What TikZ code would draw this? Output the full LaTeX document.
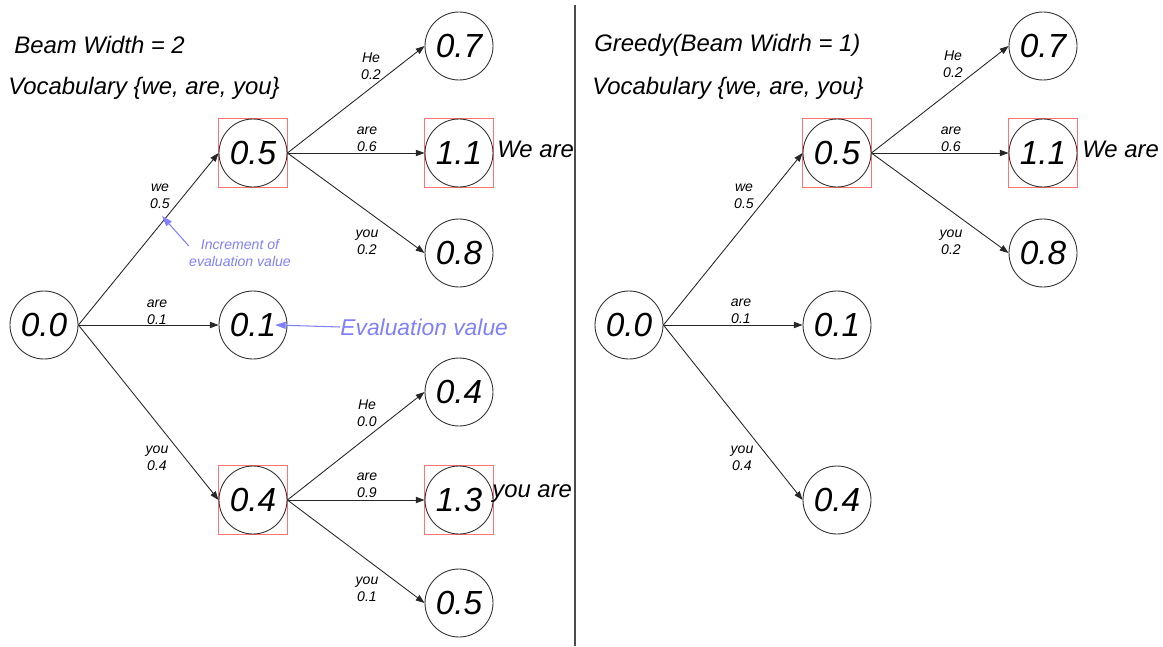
\documentclass[tikz,border=0pt]{standalone}
\usepackage{fontspec}
\setmainfont{Liberation Sans}
\usetikzlibrary{arrows.meta,positioning}

\tikzset{
  val/.style={circle, draw=black!80, line width=0.5pt, minimum size=1.36cm, inner sep=0pt,
    font=\fontsize{19}{22}\selectfont\itshape},
  best/.style={rectangle, draw=red!55, line width=0.5pt, minimum size=1.38cm, inner sep=0pt},
  edge/.style={-{Triangle[length=5pt,width=3.6pt]}, black!85, line width=0.5pt},
  elabel/.style={align=center, inner sep=0pt, font=\fontsize{8}{9.6}\selectfont\itshape},
  title/.style={anchor=west, inner sep=0pt, font=\fontsize{13.6}{16}\selectfont\itshape},
  result/.style={anchor=west, inner sep=0pt, font=\fontsize{13.6}{16}\selectfont\itshape},
  note/.style={text=blue!50, align=center, inner sep=0pt},
  notearrow/.style={-{Triangle[length=6pt,width=4pt]}, blue!50, line width=0.6pt}
}

\begin{document}
\begin{tikzpicture}[x=0.02cm, y=-0.02cm]
  \useasboundingbox (0,0) rectangle (1163,646);

  % Divider
  \draw[black!70, line width=0.6pt] (575,5) -- (575,646);

  % ---------------- Beam search (width 2) ----------------
  \node[title] (lt1) at (14,45) {Beam Width = 2};
  \node[title] (lt2) at (8,88) {Vocabulary \{we, are, you\}};

  % kept candidates
  \node[best] (lbxa) at (253,153) {};
  \node[best] (lbxc) at (253,500) {};
  \node[best] (lbxab) at (459,153) {};
  \node[best] (lbxcb) at (459,500) {};

  \node[val] (l0) at (44,325) {0.0};
  \node[val] (la) at (253,153) {0.5};
  \node[val] (lb) at (253,325) {0.1};
  \node[val] (lc) at (253,500) {0.4};
  \node[val] (laa) at (459,46) {0.7};
  \node[val] (lab) at (459,153) {1.1};
  \node[val] (lac) at (459,253) {0.8};
  \node[val] (lca) at (459,392) {0.4};
  \node[val] (lcb) at (459,500) {1.3};
  \node[val] (lcc) at (459,603) {0.5};

  \draw[edge] (l0.east) -- (la.west);
  \draw[edge] (l0.east) -- (lb.west);
  \draw[edge] (l0.east) -- (lc.west);
  \draw[edge] (la.east) -- (laa.west);
  \draw[edge] (la.east) -- (lab.west);
  \draw[edge] (la.east) -- (lac.west);
  \draw[edge] (lc.east) -- (lca.west);
  \draw[edge] (lc.east) -- (lcb.west);
  \draw[edge] (lc.east) -- (lcc.west);

  \node[elabel] (lwe) at (160,196) {we\\0.5};
  \node[elabel] (lare) at (157,312) {are\\0.1};
  \node[elabel] (lyou) at (157,458) {you\\0.4};
  \node[elabel] (lahe) at (371,66) {He\\0.2};
  \node[elabel] (laare) at (367,139) {are\\0.6};
  \node[elabel] (layou) at (367,242) {you\\0.2};
  \node[elabel] (lche) at (367,413) {He\\0.0};
  \node[elabel] (lcare) at (367,485) {are\\0.9};
  \node[elabel] (lcyou) at (367,589) {you\\0.1};

  \node[result] (lwa) at (497,149) {We are};
  \node[result] (lya) at (492,494) {you are};

  % Annotations
  \node[note, font=\fontsize{8}{9.6}\selectfont\itshape] (inc) at (240,253) {Increment of\\evaluation value};
  \coordinate (inctip) at (162,216);
  \draw[notearrow] ([yshift=4pt]inc.west) -- (inctip);

  \node[note, anchor=west, font=\fontsize{13}{15}\selectfont\itshape] (ev) at (340,327) {Evaluation value};
  \draw[notearrow] (ev.west) -- ([xshift=-7pt]lb.east);

  % ---------------- Greedy search ----------------
  \node[title] (rt1) at (594,45) {Greedy(Beam Widrh = 1)};
  \node[title] (rt2) at (592,88) {Vocabulary \{we, are, you\}};

  \node[best] (rbxa) at (837,153) {};
  \node[best] (rbxab) at (1043,153) {};

  \node[val] (r0) at (629,325) {0.0};
  \node[val] (ra) at (837,153) {0.5};
  \node[val] (rb) at (837,325) {0.1};
  \node[val] (rc) at (837,500) {0.4};
  \node[val] (raa) at (1043,46) {0.7};
  \node[val] (rab) at (1043,153) {1.1};
  \node[val] (rac) at (1043,253) {0.8};

  \draw[edge] (r0.east) -- (ra.west);
  \draw[edge] (r0.east) -- (rb.west);
  \draw[edge] (r0.east) -- (rc.west);
  \draw[edge] (ra.east) -- (raa.west);
  \draw[edge] (ra.east) -- (rab.west);
  \draw[edge] (ra.east) -- (rac.west);

  \node[elabel] (rwe) at (744,196) {we\\0.5};
  \node[elabel] (rare) at (741,311) {are\\0.1};
  \node[elabel] (ryou) at (742,458) {you\\0.4};
  \node[elabel] (rahe) at (953,64) {He\\0.2};
  \node[elabel] (raare) at (951,139) {are\\0.6};
  \node[elabel] (rayou) at (951,242) {you\\0.2};

  \node[result] (rwa) at (1082,149) {We are};
\end{tikzpicture}
\end{document}
